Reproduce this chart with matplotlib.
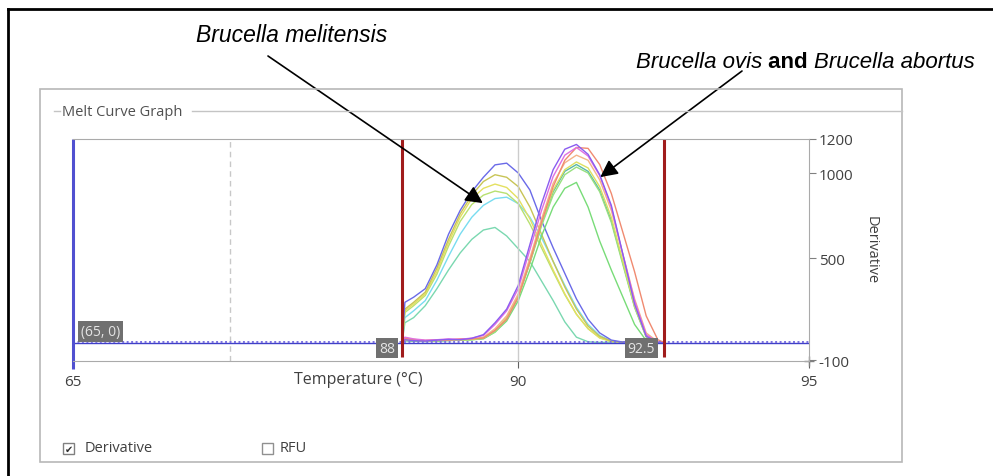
import numpy as np
import matplotlib
matplotlib.use('Agg')
import matplotlib.pyplot as plt
from matplotlib.patches import Rectangle
from matplotlib.lines import Line2D

# temperature grid (deg C) shared by all melt curves
temps = [88.0, 88.05, 88.2, 88.4, 88.6, 88.8, 89.0, 89.2, 89.4, 89.6, 89.8, 90.0, 90.2,
         90.4, 90.6, 90.8, 91.0, 91.2, 91.4, 91.6, 91.8, 92.0, 92.2, 92.4, 92.5]

# Brucella melitensis wells (peak ~89.7)
mel_blue = [0, 240, 270, 320, 460, 640, 780, 890, 975, 1048, 1058, 1000, 900, 720, 560, 410, 260, 140, 60, 18, 6, 4, 8, 5, 3]
mel_olive = [0, 200, 240, 300, 440, 610, 760, 870, 950, 990, 975, 920, 800, 640, 480, 330, 200, 100, 40, 12, 5, 8, 4, 6, 2]
mel_yellow = [0, 190, 230, 290, 420, 590, 740, 850, 910, 935, 915, 850, 730, 580, 430, 290, 170, 85, 30, 10, 6, 3, 7, 4, 2]
mel_lime = [0, 180, 220, 280, 405, 570, 715, 815, 870, 894, 880, 820, 700, 560, 420, 285, 170, 85, 32, 10, 4, 6, 3, 5, 2]
mel_cyan = [0, 150, 190, 250, 370, 510, 640, 740, 810, 850, 858, 820, 740, 620, 480, 340, 210, 110, 45, 12, 5, 3, 6, 4, 2]
mel_teal = [0, 120, 150, 220, 320, 430, 530, 610, 665, 680, 630, 555, 480, 365, 250, 125, 35, 8, 4, 6, 3, 5, 2, 4, 2]

# Brucella ovis / Brucella abortus wells (peak ~91)
ovab_purple = [0, 20, 15, 12, 18, 22, 20, 28, 50, 120, 200, 340, 580, 820, 1020, 1140, 1168, 1110, 990, 810, 520, 230, 40, 5, 2]
ovab_magenta = [0, 35, 25, 18, 20, 25, 22, 30, 45, 110, 190, 320, 550, 780, 980, 1105, 1150, 1100, 985, 800, 520, 250, 50, 6, 2]
ovab_orange = [0, 30, 22, 15, 20, 18, 25, 25, 30, 75, 140, 270, 480, 710, 920, 1075, 1150, 1145, 1050, 880, 650, 420, 160, 20, 5]
ovab_peach = [0, 25, 20, 15, 18, 20, 22, 25, 35, 85, 160, 290, 500, 730, 940, 1060, 1105, 1075, 960, 780, 520, 260, 60, 8, 3]
ovab_yellow = [0, 20, 18, 12, 15, 20, 18, 22, 30, 75, 150, 280, 480, 710, 900, 1020, 1065, 1030, 920, 740, 480, 220, 40, 5, 2]
ovab_green = [0, 18, 15, 12, 14, 18, 20, 20, 28, 65, 140, 270, 470, 690, 870, 990, 1035, 1000, 890, 710, 460, 210, 35, 5, 2]
ovab_teal = [0, 15, 12, 10, 14, 16, 18, 22, 30, 70, 145, 275, 475, 700, 890, 1010, 1050, 1010, 900, 720, 470, 215, 38, 5, 2]
ovab_lightgreen = [0, 15, 12, 10, 12, 15, 18, 20, 25, 65, 130, 250, 430, 630, 800, 910, 945, 800, 600, 430, 270, 110, 15, 4, 2]

curves = [
    (mel_teal, '#7ad8b0'), (mel_cyan, '#78dcf0'), (mel_lime, '#b8e070'),
    (mel_yellow, '#e4e060'), (mel_olive, '#c8c456'), (mel_blue, '#6a6ae8'),
    (ovab_lightgreen, '#78dc78'), (ovab_teal, '#58b8a8'), (ovab_green, '#98e080'),
    (ovab_yellow, '#dce060'), (ovab_peach, '#f4b488'), (ovab_orange, '#f08a70'),
    (ovab_magenta, '#e070e0'), (ovab_purple, '#8a5cf0'),
]

x_ticks = [65, 90, 95]
y_ticks = [-100, 500, 1000, 1200]
melt_start, melt_end = 88, 92.5

W, H = 993, 477


def fx(px):
    return px / W


def fy(py):
    return 1 - py / H


# the instrument axis is compressed below 88 and stretched above it
def fwd(t):
    t = np.asarray(t, float)
    return np.where(t < 88, (t - 65) * 329 / 23, 329 + (t - 88) * 407 / 7)


def inv(p):
    p = np.asarray(p, float)
    return np.where(p < 329, 65 + p * 23 / 329, 88 + (p - 329) * 7 / 407)


fig = plt.figure(figsize=(W / 100, H / 100), dpi=100)
plt.rcParams['font.family'] = ['Open Sans', 'DejaVu Sans']
plt.rcParams['axes.unicode_minus'] = False
txt = '#404040'
grey = '#aaaaaa'

# outer black frame
fig.add_artist(Line2D([fx(8), fx(8)], [fy(10), 0], transform=fig.transFigure, color='black', lw=2))
fig.add_artist(Line2D([fx(8), 1], [fy(10), fy(10)], transform=fig.transFigure, color='black', lw=2))

# software panel
fig.add_artist(Rectangle((fx(40), fy(463)), fx(902 - 40), (463 - 90) / H, transform=fig.transFigure,
                         fill=False, edgecolor='#b8b8b8', lw=1.2))
fig.add_artist(Line2D([fx(54), fx(60)], [fy(112), fy(112)], transform=fig.transFigure, color='#c4c4c4', lw=1))
fig.add_artist(Line2D([fx(192), fx(902)], [fy(112), fy(112)], transform=fig.transFigure, color='#c4c4c4', lw=1))
fig.text(fx(62), fy(112), 'Melt Curve Graph', fontsize=10.5, color='#505050', va='center', ha='left')

ax = fig.add_axes([fx(73), fy(362), fx(809 - 73), (362 - 140) / H])
ax.set_xscale('function', functions=(fwd, inv))
ax.set_xlim(65, 95)
ax.set_ylim(-105, 1200)

for vals, col in curves:
    ax.plot(temps, vals, color=col, lw=1.0)

# grid marks
ax.axvline(76, color='#c8c8c8', lw=1, ls=(0, (4, 3)))
ax.axvline(90, color='#cccccc', lw=1)

# baseline cursor
ax.axhline(0, color='#4040c8', lw=1.0)
ax.axhline(6, color='#7a70e0', lw=1.4, ls=(0, (1, 1.3)))
ax.vlines(65, -150, 1200, color='#5050d0', lw=2.2, clip_on=False)

# melt region bounds
ax.vlines([melt_start, melt_end], -82, 1200, color='#a01c1c', lw=2.2)

box = dict(boxstyle='square,pad=0.2', fc='#707070', ec='none')
ax.text(65.56, 68, '(65, 0)', fontsize=10, color='#e4e4e4', ha='left', va='center', bbox=box)
ax.text(87.5, -29, '88', fontsize=10, color='#e4e4e4', ha='right', va='center', bbox=box)
ax.text(92.35, -29, '92.5', fontsize=10, color='#e4e4e4', ha='right', va='center', bbox=box)

for side in ['top', 'bottom', 'right']:
    ax.spines[side].set_color(grey)
ax.spines['left'].set_visible(False)

ax.set_xticks(x_ticks)
ax.set_xticklabels([str(t) for t in x_ticks])
ax.tick_params(axis='x', length=5, color='#606060', labelsize=11, labelcolor=txt, pad=4)
ax.yaxis.tick_right()
ax.set_yticks(y_ticks)
ax.tick_params(axis='y', length=5, color='#808080', labelsize=11, labelcolor=txt, pad=2)
ax.plot([95], [-105], marker='+', ms=7, color='#808080', clip_on=False)

ax.set_xlabel('Temperature (\u00b0C)', fontsize=11.5, color=txt)
ax.xaxis.set_label_coords((358 - 73) / 736, -(380 - 362) / 222)
ax.xaxis.label.set_va('center')
ax.set_ylabel('Derivative', fontsize=10.5, color=txt, rotation=270, va='center')
ax.yaxis.set_label_position('right')
ax.yaxis.set_label_coords((879 - 73) / 736, (362 - 250) / 222)

# checkboxes
fig.add_artist(Rectangle((fx(63), fy(455)), fx(11), 11 / H, transform=fig.transFigure,
                         fill=False, edgecolor='#808080', lw=1))
fig.text(fx(68.5), fy(449.5), '\u2714', fontsize=7, color='#303030', ha='center', va='center',
         family=['DejaVu Sans'])
fig.text(fx(85), fy(448), 'Derivative', fontsize=10.5, color=txt, va='center')
fig.add_artist(Rectangle((fx(262), fy(455)), fx(11), 11 / H, transform=fig.transFigure,
                         fill=False, edgecolor='#909090', lw=1))
fig.text(fx(280), fy(448), 'RFU', fontsize=10.5, color=txt, va='center')

# annotations
ann_font = ['Liberation Sans Narrow', 'Liberation Sans']
fig.text(fx(292), fy(35), 'Brucella melitensis', fontsize=16.5, style='italic', family=ann_font,
         ha='center', va='center')
t1 = fig.text(fx(636), fy(62), 'Brucella ovis', fontsize=16, style='italic', family=ann_font,
              ha='left', va='center')
t2 = ax.annotate(' and ', xy=(1, 0), xycoords=t1, va='bottom', ha='left', fontsize=16,
                 fontweight='bold', family=ann_font, annotation_clip=False)
ax.annotate('Brucella abortus', xy=(1, 0), xycoords=t2, va='bottom', ha='left', fontsize=16,
            style='italic', family=ann_font, annotation_clip=False)

arrow = dict(arrowstyle='-|>', color='black', lw=1.2, mutation_scale=26, shrinkA=0, shrinkB=0)
ax.annotate('', xy=(89.39, 823), xycoords='data', xytext=(268, H - 57), textcoords='figure pixels',
            arrowprops=arrow, annotation_clip=False)
ax.annotate('', xy=(91.41, 976), xycoords='data', xytext=(742, H - 72), textcoords='figure pixels',
            arrowprops=arrow, annotation_clip=False)

fig.savefig('out.png', dpi=100)
